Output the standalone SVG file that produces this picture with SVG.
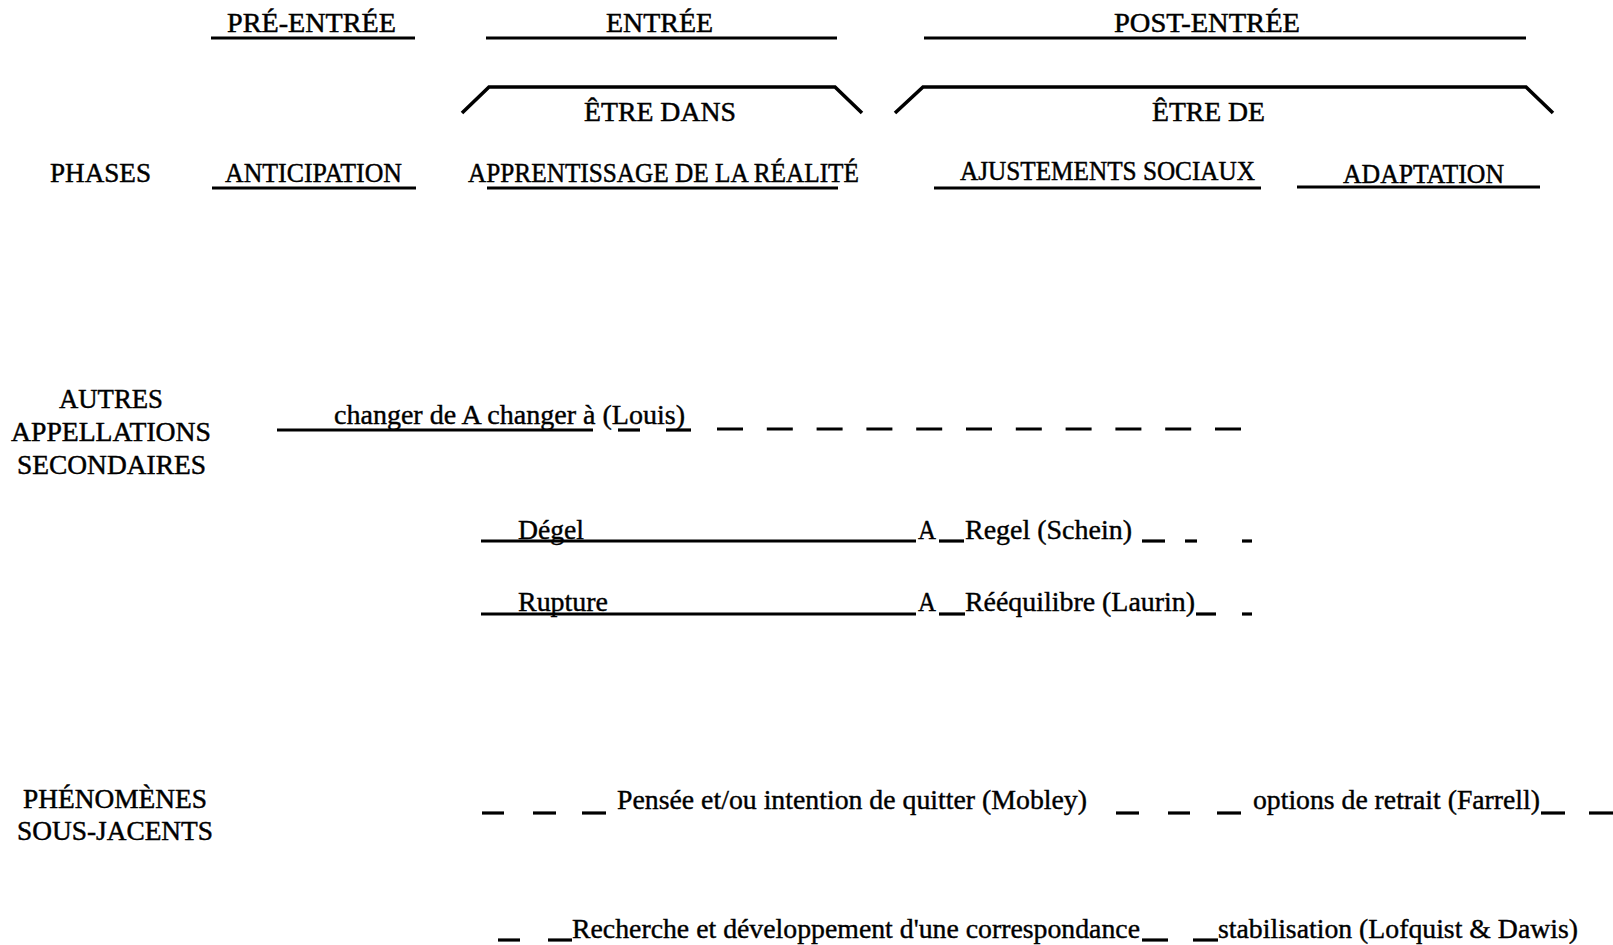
<svg xmlns="http://www.w3.org/2000/svg" width="1613" height="945" viewBox="0 0 1613 945">
  <style>
    .t { font-family: "Liberation Serif", "Times New Roman", serif; font-size: 26.5px; fill: #000; stroke: #000; stroke-width: 0.45; }
    .s { font-family: "Liberation Serif", "Times New Roman", serif; font-size: 27.5px; fill: #000; stroke: #000; stroke-width: 0.4; }
    .ln { stroke: #000; stroke-width: 3.2; fill: none; stroke-linecap: butt; }
    .br { stroke: #000; stroke-width: 3.6; fill: none; stroke-linejoin: miter; }
    .dash { stroke: #000; stroke-width: 3.2; fill: none; stroke-dasharray: 26 23.8; }
  </style>
  <rect width="1613" height="945" fill="#fff"/>

  <!-- Period headings -->
  <g id="pre-entree"><text class="t" x="227" y="32" textLength="169" lengthAdjust="spacingAndGlyphs">PRÉ-ENTRÉE</text></g>
  <g id="entree"><text class="t" x="606" y="32" textLength="107" lengthAdjust="spacingAndGlyphs">ENTRÉE</text></g>
  <g id="post-entree"><text class="t" x="1114" y="32" textLength="186" lengthAdjust="spacingAndGlyphs">POST-ENTRÉE</text></g>

  <!-- Bracket labels -->
  <g id="etre-dans"><text class="t" x="584" y="121" textLength="152" lengthAdjust="spacingAndGlyphs">ÊTRE DANS</text></g>
  <g id="etre-de"><text class="t" x="1152" y="121" textLength="113" lengthAdjust="spacingAndGlyphs">ÊTRE DE</text></g>

  <!-- Phases row -->
  <g id="phases"><text class="t" x="50" y="182" textLength="101" lengthAdjust="spacingAndGlyphs">PHASES</text></g>
  <g id="anticipation"><text class="t" x="225" y="182" textLength="177" lengthAdjust="spacingAndGlyphs">ANTICIPATION</text></g>
  <g id="apprentissage"><text class="t" x="468" y="182" textLength="391" lengthAdjust="spacingAndGlyphs">APPRENTISSAGE DE LA RÉALITÉ</text></g>
  <g id="ajustements"><text class="t" x="960" y="180" textLength="295" lengthAdjust="spacingAndGlyphs">AJUSTEMENTS SOCIAUX</text></g>
  <g id="adaptation"><text class="t" x="1343" y="183" textLength="161" lengthAdjust="spacingAndGlyphs">ADAPTATION</text></g>

  <!-- Row headings -->
  <g id="autres-appellations">
    <text class="t" x="59" y="408" textLength="104" lengthAdjust="spacingAndGlyphs">AUTRES</text>
    <text class="t" x="11" y="441" textLength="200" lengthAdjust="spacingAndGlyphs">APPELLATIONS</text>
    <text class="t" x="17" y="474" textLength="189" lengthAdjust="spacingAndGlyphs">SECONDAIRES</text>
  </g>
  <g id="phenomenes">
    <text class="t" x="23" y="808" textLength="184" lengthAdjust="spacingAndGlyphs">PHÉNOMÈNES</text>
    <text class="t" x="17" y="840" textLength="196" lengthAdjust="spacingAndGlyphs">SOUS-JACENTS</text>
  </g>

  <!-- Secondary names -->
  <g id="louis"><text class="s" x="334" y="424" textLength="351" lengthAdjust="spacingAndGlyphs">changer de A changer à (Louis)</text></g>
  <g id="schein">
    <text class="s" x="518" y="539" textLength="66" lengthAdjust="spacingAndGlyphs">Dégel</text>
    <text class="s" x="918" y="539" textLength="18" lengthAdjust="spacingAndGlyphs">A</text>
    <text class="s" x="965" y="539" textLength="167" lengthAdjust="spacingAndGlyphs">Regel (Schein)</text>
  </g>
  <g id="laurin">
    <text class="s" x="518" y="611" textLength="90" lengthAdjust="spacingAndGlyphs">Rupture</text>
    <text class="s" x="918" y="611" textLength="18" lengthAdjust="spacingAndGlyphs">A</text>
    <text class="s" x="965" y="611" textLength="230" lengthAdjust="spacingAndGlyphs">Rééquilibre (Laurin)</text>
  </g>

  <!-- Underlying phenomena -->
  <g id="mobley"><text class="s" x="617" y="809" textLength="470" lengthAdjust="spacingAndGlyphs">Pensée et/ou intention de quitter (Mobley)</text></g>
  <g id="farrell"><text class="s" x="1253" y="809" textLength="287" lengthAdjust="spacingAndGlyphs">options de retrait (Farrell)</text></g>
  <g id="recherche"><text class="s" x="572" y="938" textLength="568" lengthAdjust="spacingAndGlyphs">Recherche et développement d'une correspondance</text></g>
  <g id="stabilisation"><text class="s" x="1218" y="938" textLength="360" lengthAdjust="spacingAndGlyphs">stabilisation (Lofquist &amp; Dawis)</text></g>

  <!-- Rules, brackets and dashed continuations -->
  <g id="connectors">
    <!-- heading rules -->
    <line class="ln" x1="211" y1="38" x2="415" y2="38"/>
    <line class="ln" x1="486" y1="38" x2="837" y2="38"/>
    <line class="ln" x1="924" y1="38" x2="1526" y2="38"/>
    <!-- brackets -->
    <polyline class="br" points="462,113 489,87 835,87 862,113"/>
    <polyline class="br" points="895,113 923,87 1526,87 1553,113"/>
    <!-- phase rules -->
    <line class="ln" x1="212" y1="188" x2="416" y2="188"/>
    <line class="ln" x1="487" y1="188" x2="838" y2="188"/>
    <line class="ln" x1="934" y1="188" x2="1261" y2="188"/>
    <line class="ln" x1="1297" y1="187" x2="1540" y2="187"/>
    <!-- Louis -->
    <line class="ln" x1="277" y1="430" x2="593" y2="430"/>
    <line class="ln" x1="618" y1="430" x2="640" y2="430"/>
    <line class="ln" x1="666" y1="430" x2="691" y2="430"/>
    <line class="dash" x1="717" y1="429" x2="1242" y2="429"/>
    <!-- Schein -->
    <line class="ln" x1="481" y1="541" x2="916" y2="541"/>
    <line class="ln" x1="939" y1="541" x2="964" y2="541"/>
    <line class="ln" x1="1142" y1="541" x2="1165" y2="541"/>
    <line class="ln" x1="1185" y1="541" x2="1197" y2="541"/>
    <line class="ln" x1="1242" y1="541" x2="1252" y2="541"/>
    <!-- Laurin -->
    <line class="ln" x1="481" y1="614" x2="916" y2="614"/>
    <line class="ln" x1="939" y1="614" x2="965" y2="614"/>
    <line class="ln" x1="1196" y1="614" x2="1216" y2="614"/>
    <line class="ln" x1="1242" y1="614" x2="1252" y2="614"/>
    <!-- Mobley / Farrell -->
    <line class="ln" x1="482" y1="813" x2="504" y2="813"/>
    <line class="ln" x1="533" y1="813" x2="556" y2="813"/>
    <line class="ln" x1="582" y1="813" x2="606" y2="813"/>
    <line class="ln" x1="1116" y1="813" x2="1139" y2="813"/>
    <line class="ln" x1="1168" y1="813" x2="1190" y2="813"/>
    <line class="ln" x1="1217" y1="813" x2="1241" y2="813"/>
    <line class="ln" x1="1541" y1="813" x2="1565" y2="813"/>
    <line class="ln" x1="1589" y1="813" x2="1613" y2="813"/>
    <!-- Recherche / stabilisation -->
    <line class="ln" x1="498" y1="940" x2="520" y2="940"/>
    <line class="ln" x1="548" y1="940" x2="572" y2="940"/>
    <line class="ln" x1="1142" y1="940" x2="1168" y2="940"/>
    <line class="ln" x1="1193" y1="940" x2="1218" y2="940"/>
  </g>
</svg>
